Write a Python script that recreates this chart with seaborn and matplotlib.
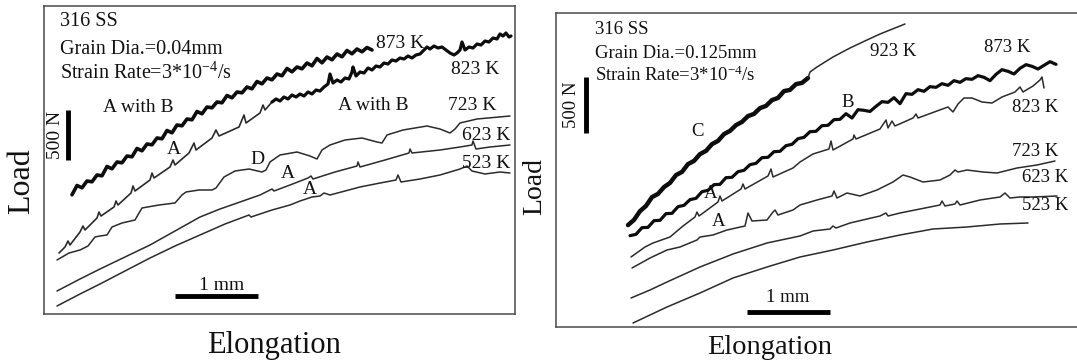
import matplotlib
matplotlib.use("Agg")
import matplotlib.pyplot as plt
import seaborn as sns

sns.set_theme(style="white")
plt.rcParams["font.family"] = ["Liberation Serif", "DejaVu Serif"]
plt.rcParams["mathtext.fontset"] = "custom"
plt.rcParams["mathtext.rm"] = "Liberation Serif"
plt.rcParams["mathtext.it"] = "Liberation Serif:italic"

# ---------------- Left panel: grain diameter 0.04 mm ----------------
# elongation in mm, load in N (origin at the lower-left corner of the frame)
g1_523_x = [0.156, 0.432, 0.672, 0.972, 1.272, 1.572, 1.872, 2.172, 2.46, 2.484,
            2.736, 2.952, 3.072, 3.216, 3.312, 3.36, 3.432, 3.612, 3.792, 3.972,
            4.224, 4.248, 4.284, 4.512, 4.752, 4.992, 5.076, 5.136, 5.292, 5.472, 5.592]
g1_523_y = [80, 200, 300, 430, 560, 680, 790, 900, 990, 970,
            1040, 1090, 1130, 1170, 1180, 1210, 1190, 1230, 1270, 1300,
            1340, 1390, 1320, 1350, 1390, 1450, 1480, 1430, 1400, 1420, 1410]

g1_623_x = [0.156, 0.432, 0.672, 0.972, 1.272, 1.572, 1.872, 2.112, 2.352, 2.592,
            2.736, 2.76, 2.952, 3.168, 3.204, 3.228, 3.492, 3.756, 3.768, 3.792,
            4.092, 4.38, 4.392, 4.416, 4.752, 4.992, 5.136, 5.148, 5.184, 5.352, 5.592]
g1_623_y = [230, 350, 450, 570, 690, 830, 970, 1050, 1120, 1190,
            1250, 1230, 1290, 1360, 1380, 1350, 1420, 1480, 1520, 1470,
            1540, 1610, 1650, 1610, 1640, 1670, 1690, 1730, 1650, 1670, 1690]

g1_723_x = [0.156, 0.3, 0.432, 0.528, 0.612, 0.672, 0.756, 0.816, 0.936, 1.092,
            1.14, 1.176, 1.38, 1.572, 1.656, 1.704, 1.86, 2.016, 2.064, 2.16,
            2.292, 2.46, 2.616, 2.664, 2.712, 2.832, 3.036, 3.192, 3.276, 3.336,
            3.432, 3.612, 3.816, 3.996, 4.056, 4.116, 4.308, 4.596, 4.752, 4.872,
            4.932, 4.992, 5.196, 5.592]
g1_723_y = [540, 610, 640, 680, 770, 780, 790, 870, 910, 940,
            1010, 1060, 1090, 1110, 1190, 1220, 1240, 1240, 1260, 1370,
            1430, 1450, 1420, 1440, 1520, 1590, 1620, 1580, 1550, 1640,
            1690, 1740, 1760, 1720, 1710, 1790, 1840, 1880, 1850, 1810,
            1850, 1910, 1950, 1980]

# 823 K: type A serrations first, then the dense (A with B) part
g1_823a_x = [0.18, 0.252, 0.288, 0.312, 0.432, 0.468, 0.492, 0.636, 0.66, 0.684,
             0.84, 0.864, 0.888, 1.044, 1.068, 1.092, 1.272, 1.296, 1.32, 1.512,
             1.548, 1.572, 1.74, 1.8, 1.824, 2.016, 2.064, 2.1, 2.34, 2.4,
             2.424, 2.592, 2.628, 2.652, 2.736]
g1_823a_y = [610, 670, 730, 690, 820, 880, 840, 960, 1020, 980,
             1070, 1130, 1090, 1210, 1280, 1230, 1340, 1410, 1360, 1470,
             1540, 1490, 1610, 1710, 1640, 1760, 1840, 1780, 1870, 1990,
             1910, 2010, 2090, 2040, 2120]
g1_823b_x = [2.736, 2.784, 2.832, 2.88, 2.928, 2.976, 3.024, 3.072, 3.12, 3.168,
             3.216, 3.264, 3.312, 3.36, 3.408, 3.432, 3.468, 3.516, 3.564, 3.612,
             3.66, 3.696, 3.708, 3.744, 3.792, 3.84, 3.888, 3.936, 3.984, 4.032,
             4.08, 4.128, 4.176, 4.224, 4.272, 4.32, 4.368, 4.416, 4.464, 4.512,
             4.56, 4.596, 4.632, 4.68, 4.728, 4.776, 4.824, 4.872, 4.92, 4.956,
             4.992, 5.016, 5.052, 5.1, 5.148, 5.196, 5.244, 5.292, 5.34, 5.388,
             5.436, 5.472, 5.508, 5.544, 5.58, 5.604]
g1_823b_y = [2120, 2150, 2130, 2170, 2150, 2190, 2170, 2200, 2180, 2220,
             2200, 2240, 2230, 2270, 2300, 2400, 2310, 2340, 2320, 2360,
             2350, 2420, 2470, 2380, 2420, 2410, 2460, 2440, 2480, 2470,
             2510, 2500, 2540, 2530, 2560, 2550, 2580, 2560, 2590, 2600,
             2640, 2670, 2650, 2680, 2660, 2670, 2640, 2610, 2590, 2610,
             2640, 2720, 2640, 2670, 2660, 2700, 2690, 2730, 2720, 2760,
             2750, 2800, 2780, 2810, 2770, 2780]

g1_873_x = [0.336, 0.396, 0.456, 0.516, 0.576, 0.636, 0.696, 0.756, 0.816, 0.876,
            0.936, 0.996, 1.056, 1.116, 1.176, 1.236, 1.296, 1.356, 1.416, 1.476,
            1.536, 1.596, 1.656, 1.716, 1.776, 1.836, 1.896, 1.956, 2.016, 2.076,
            2.136, 2.196, 2.256, 2.316, 2.376, 2.436, 2.496, 2.556, 2.616, 2.676,
            2.736, 2.796, 2.856, 2.916, 2.976, 3.036, 3.096, 3.156, 3.216, 3.276,
            3.336, 3.396, 3.456, 3.516, 3.576, 3.636, 3.696, 3.756, 3.816, 3.876,
            3.936]
g1_873_y = [1192, 1285, 1262, 1330, 1322, 1390, 1382, 1475, 1452, 1520,
            1512, 1580, 1572, 1655, 1632, 1700, 1692, 1760, 1752, 1835,
            1812, 1890, 1882, 1950, 1942, 2025, 2002, 2070, 2062, 2120,
            2112, 2185, 2162, 2220, 2212, 2270, 2252, 2325, 2302, 2360,
            2342, 2400, 2382, 2455, 2422, 2470, 2452, 2510, 2482, 2555,
            2512, 2570, 2542, 2600, 2572, 2635, 2602, 2650, 2622, 2665,
            2640]

# ---------------- Right panel: grain diameter 0.125 mm ----------------
g2_523_x = [0.924, 1.332, 1.728, 2.124, 2.532, 2.928, 3.324, 3.732, 4.128, 4.524,
            4.932, 5.328, 5.664]
g2_523_y = [36, 180, 306, 441, 540, 630, 693, 765, 828, 882,
            900, 927, 936]

g2_623_x = [0.9, 1.128, 1.332, 1.728, 2.124, 2.532, 2.928, 3.084, 3.288, 3.324,
            3.36, 3.528, 3.732, 3.888, 3.96, 3.984, 4.128, 4.368, 4.608, 4.632,
            4.668, 4.788, 4.812, 4.848, 5.088, 5.328, 5.388, 5.448, 5.568, 5.724, 6.012]
g2_623_y = [261, 333, 405, 540, 657, 756, 819, 864, 882, 909,
            891, 936, 972, 999, 1026, 999, 1026, 1062, 1098, 1134,
            1089, 1107, 1134, 1098, 1143, 1170, 1206, 1161, 1170, 1170, 1179]

g2_723_x = [0.912, 1.128, 1.332, 1.488, 1.692, 1.728, 1.884, 2.052, 2.268, 2.304,
            2.352, 2.532, 2.604, 2.628, 2.664, 2.844, 2.928, 3.132, 3.312, 3.336,
            3.372, 3.492, 3.648, 3.852, 4.044, 4.164, 4.248, 4.404, 4.608, 4.728,
            4.788, 4.824, 4.932, 5.124, 5.292, 5.532, 5.772, 5.988]
g2_723_y = [531, 621, 693, 720, 783, 810, 828, 873, 909, 1026,
            954, 963, 1035, 1053, 1008, 1053, 1098, 1143, 1179, 1224,
            1161, 1206, 1179, 1233, 1305, 1368, 1350, 1305, 1323, 1368,
            1413, 1395, 1413, 1395, 1386, 1431, 1458, 1494]

g2_823_x = [0.9, 1.068, 1.164, 1.368, 1.524, 1.668, 1.692, 1.716, 1.944, 1.968,
            1.992, 2.22, 2.244, 2.268, 2.544, 2.58, 2.604, 2.844, 2.928, 3.084,
            3.276, 3.3, 3.324, 3.564, 3.576, 3.6, 3.888, 3.96, 3.984, 4.032,
            4.068, 4.284, 4.32, 4.344, 4.572, 4.704, 4.764, 4.824, 4.896, 4.992,
            5.112, 5.232, 5.352, 5.508, 5.568, 5.604, 5.724, 5.808, 5.832, 5.856]
g2_823_y = [630, 720, 756, 810, 909, 990, 1035, 999, 1125, 1179,
            1134, 1242, 1287, 1242, 1359, 1422, 1350, 1431, 1485, 1557,
            1602, 1674, 1593, 1692, 1728, 1692, 1782, 1863, 1791, 1854,
            1809, 1881, 1917, 1881, 1944, 1980, 1935, 2007, 2061, 2061,
            2025, 2016, 2070, 2115, 2160, 2115, 2169, 2223, 2250, 2151]

g2_873_x = [0.888, 0.96, 1.032, 1.104, 1.176, 1.248, 1.32, 1.392, 1.464, 1.536,
            1.608, 1.68, 1.752, 1.824, 1.896, 1.968, 2.04, 2.112, 2.184, 2.256,
            2.328, 2.4, 2.472, 2.544, 2.616, 2.688, 2.76, 2.832, 2.904, 2.976,
            3.048, 3.12, 3.192, 3.264, 3.336, 3.408, 3.48, 3.552, 3.624, 3.696,
            3.768, 3.84, 3.912, 3.984, 4.056, 4.128, 4.2, 4.272, 4.344, 4.416,
            4.488, 4.56, 4.632, 4.704, 4.776, 4.848, 4.92, 4.992, 5.064, 5.136,
            5.208, 5.28, 5.352, 5.424, 5.496, 5.568, 5.64, 5.712, 5.784, 5.856,
            5.928, 6.0]
g2_873_y = [822, 834, 894, 897, 957, 960, 1020, 1023, 1083, 1095,
            1146, 1158, 1218, 1230, 1281, 1284, 1344, 1347, 1398, 1410,
            1461, 1473, 1524, 1527, 1578, 1581, 1632, 1644, 1695, 1707,
            1758, 1761, 1812, 1815, 1866, 1869, 1920, 1881, 1956, 1950,
            1940, 1986, 2028, 2022, 2064, 2010, 2100, 2094, 2136, 2121,
            2163, 2157, 2190, 2175, 2217, 2202, 2235, 2229, 2262, 2247,
            2217, 2274, 2316, 2301, 2277, 2328, 2361, 2346, 2322, 2355,
            2388, 2364]

# 923 K: dense type C serrations, then smooth flow
g2_923a_x = [0.864, 0.936, 1.008, 1.08, 1.152, 1.224, 1.296, 1.368, 1.44, 1.512,
             1.584, 1.656, 1.728, 1.8, 1.872, 1.944, 2.016, 2.088, 2.16, 2.232,
             2.304, 2.376, 2.448, 2.52, 2.592, 2.664, 2.736, 2.808, 2.88, 2.952,
             3.024]
g2_923a_y = [917, 964, 1043, 1090, 1169, 1198, 1259, 1297, 1367, 1396,
             1466, 1495, 1556, 1585, 1646, 1675, 1736, 1765, 1817, 1846,
             1898, 1918, 1970, 1990, 2042, 2062, 2123, 2134, 2186, 2197,
             2241]
g2_923b_x = [3.024, 3.048, 3.132, 3.324, 3.528, 3.732, 3.888, 4.188]
g2_923b_y = [2241, 2295, 2340, 2430, 2511, 2583, 2637, 2727]

# scale bars
bar_mm = 1.0
bar_N = 500

# ---------------- figure ----------------
W, H = 1077, 362
fig = plt.figure(figsize=(W / 100, H / 100), dpi=100)


def box(x0, y0, x1, y1):
    return fig.add_axes([x0 / W, 1 - y1 / H, (x1 - x0) / W, (y1 - y0) / H])


ax1 = box(44, 6, 515, 314)
ax2 = box(556, 13, 1090, 327)
ax1.set_xlim(0, 5.652)
ax1.set_ylim(0, 3080)
ax2.set_xlim(0, 6.408)
ax2.set_ylim(0, 2826)

THIN = "#2b2b2b"
THICK = "#0d0d0d"


def curve(ax, xs, ys, lw, color):
    sns.lineplot(x=xs, y=ys, ax=ax, color=color, linewidth=lw, sort=False,
                 estimator=None, legend=False)


curve(ax1, g1_523_x, g1_523_y, 1.1, THIN)
curve(ax1, g1_623_x, g1_623_y, 1.1, THIN)
curve(ax1, g1_723_x, g1_723_y, 1.1, THIN)
curve(ax1, g1_823a_x, g1_823a_y, 1.2, THIN)
curve(ax1, g1_823b_x, g1_823b_y, 2.3, THICK)
curve(ax1, g1_873_x, g1_873_y, 2.6, THICK)

curve(ax2, g2_523_x, g2_523_y, 1.1, THIN)
curve(ax2, g2_623_x, g2_623_y, 1.1, THIN)
curve(ax2, g2_723_x, g2_723_y, 1.1, THIN)
curve(ax2, g2_823_x, g2_823_y, 1.1, THIN)
curve(ax2, g2_873_x, g2_873_y, 2.3, THICK)
curve(ax2, g2_923a_x, g2_923a_y, 3.2, THICK)
curve(ax2, g2_923b_x, g2_923b_y, 1.1, THIN)

for ax in (ax1, ax2):
    ax.set_xticks([])
    ax.set_yticks([])
    ax.set_xlabel("")
    ax.set_ylabel("")
    for s in ax.spines.values():
        s.set_visible(True)
        s.set_color("#4a4a4a")
        s.set_linewidth(1.1)

# scale bars
ax1.plot([1.572, 1.572 + bar_mm], [180, 180], color="black", lw=3.5, solid_capstyle="butt")
ax1.plot([0.288, 0.288], [1540, 1540 + bar_N], color="black", lw=3.5, solid_capstyle="butt")
ax2.plot([2.292, 2.292 + bar_mm], [135, 135], color="black", lw=3.5, solid_capstyle="butt")
ax2.plot([0.36, 0.36], [1746, 1746 + bar_N], color="black", lw=3.5, solid_capstyle="butt")

TXT = dict(color="#111111", ha="center", va="center")
fs = 14.5

# left panel annotations
ax1.text(0.192, 2920, "316 SS", fontsize=fs, color="#111111", ha="left", va="center")
ax1.text(0.192, 2650, "Grain Dia.=0.04mm", fontsize=fs, color="#111111", ha="left", va="center")
ax1.text(0.192, 2410, "Strain Rate=3*10$^{-4}$/s", fontsize=fs, color="#111111", ha="left", va="center")
ax1.text(0.132, 1790, "500 N", fontsize=14, rotation=90, **TXT)
ax1.text(2.136, 290, "1 mm", fontsize=14, **TXT)
for x, y, s in [(1.128, 2070, "A with B"), (1.56, 1650, "A"), (2.556, 1550, "D"),
                (2.928, 1410, "A"), (3.192, 1240, "A"), (3.948, 2080, "A with B"),
                (4.272, 2710, "873 K"), (5.172, 2440, "823 K"), (5.136, 2090, "723 K"),
                (5.304, 1780, "623 K"), (5.304, 1510, "523 K")]:
    ax1.text(x, y, s, fontsize=14, **TXT)

# right panel annotations
fs2 = 13.5
ax2.text(0.468, 2682, "316 SS", fontsize=fs2, color="#111111", ha="left", va="center")
ax2.text(0.468, 2466, "Grain Dia.=0.125mm", fontsize=fs2, color="#111111", ha="left", va="center")
ax2.text(0.468, 2268, "Strain Rate=3*10$^{-4}$/s", fontsize=fs2, color="#111111", ha="left", va="center")
ax2.text(0.192, 1998, "500 N", fontsize=13.5, rotation=90, **TXT)
ax2.text(2.784, 270, "1 mm", fontsize=13.5, **TXT)
for x, y, s in [(1.704, 1755, "C"), (3.504, 2016, "B"), (1.86, 1206, "A"), (1.956, 945, "A"),
                (4.044, 2475, "923 K"), (5.412, 2520, "873 K"), (5.748, 1971, "823 K"),
                (5.748, 1575, "723 K"), (5.868, 1341, "623 K"), (5.868, 1089, "523 K")]:
    ax2.text(x, y, s, fontsize=fs2, **TXT)

# axis titles
fig.text(22 / W, 1 - 181 / H, "Load", fontsize=23, rotation=90, **TXT)
fig.text(274 / W, 1 - 345 / H, "Elongation", fontsize=22, **TXT)
fig.text(535 / W, 1 - 187 / H, "Load", fontsize=20, rotation=90, **TXT)
fig.text(770 / W, 1 - 348 / H, "Elongation", fontsize=20.5, **TXT)

fig.savefig("out.png", dpi=100)
